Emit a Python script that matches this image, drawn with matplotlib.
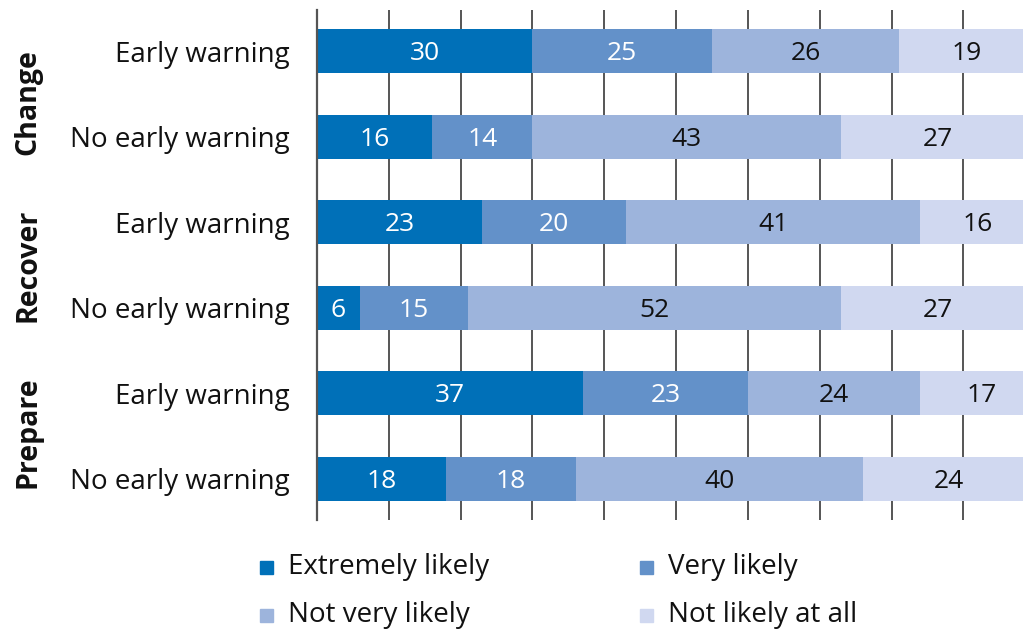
import matplotlib
matplotlib.use("Agg")
import matplotlib.pyplot as plt
from matplotlib.patches import Rectangle
import numpy as np

plt.rcParams['font.family'] = ['Open Sans', 'DejaVu Sans']

rows = ["Early warning", "No early warning", "Early warning",
        "No early warning", "Early warning", "No early warning"]
groups = ["Change", "Recover", "Prepare"]
categories = ["Extremely likely", "Very likely", "Not very likely", "Not likely at all"]
extremely = [30, 16, 23, 6, 37, 18]
very = [25, 14, 20, 15, 23, 18]
not_very = [26, 43, 41, 52, 24, 40]
not_at_all = [19, 27, 16, 27, 17, 24]

colors = ["#0070b8", "#6391c9", "#9db4dc", "#d0d8f0"]
text_colors = ["white", "white", "#111111", "#111111"]

W, H = 1023, 629
fig = plt.figure(figsize=(W / 100, H / 100), dpi=100)
ax = fig.add_axes([317 / W, 1 - 520 / H, (W - 317) / W, 510 / H])

y = np.arange(len(rows))
series = [extremely, very, not_very, not_at_all]
left = np.zeros(len(rows))
for vals, col, tcol in zip(series, colors, text_colors):
    vals = np.array(vals, dtype=float)
    ax.barh(y, vals, left=left, height=0.515, color=col, zorder=3)
    for yi, l, v in zip(y, left, vals):
        ax.text(l + v / 2, yi + 0.03, f"{int(v)}", ha="center", va="center",
                color=tcol, fontsize=19, zorder=4)
    left += vals

ax.set_xlim(0, 98.3)
ax.set_ylim(5.48, -0.48)
ax.set_xticks(np.arange(0, 100, 10))
ax.xaxis.grid(True, color="#555555", linewidth=1.4, zorder=0)
ax.tick_params(axis="x", length=0, labelbottom=False)
ax.tick_params(axis="y", length=0, labelsize=20, pad=19.5, colors="#111111")
ax.set_yticks(y)
ax.set_yticklabels(rows)
for side in ["top", "right", "bottom"]:
    ax.spines[side].set_visible(False)
ax.spines["left"].set_color("#555555")
ax.spines["left"].set_linewidth(1.6)
ax.spines["left"].set_zorder(5)

# group labels, one per pair of rows
group_centres = [0.6, 2.5, 4.45]
for g, yc in zip(groups, group_centres):
    ax.text(-0.41, yc, g, transform=ax.get_yaxis_transform(), rotation=90,
            ha="center", va="center", fontsize=20.5, fontweight="bold", color="#111111")

# legend in two columns
leg_pos = [(260, 567), (640, 567), (260, 615), (640, 615)]
for (px, py), cat, col in zip(leg_pos, categories, colors):
    s = 13
    fig.add_artist(Rectangle(((px) / W, 1 - (py + s / 2) / H), s / W, s / H,
                             transform=fig.transFigure, color=col))
    fig.text((px + 28) / W, 1 - py / H, cat, ha="left", va="center",
             fontsize=20, color="#111111")

fig.savefig("out.png", dpi=100)
